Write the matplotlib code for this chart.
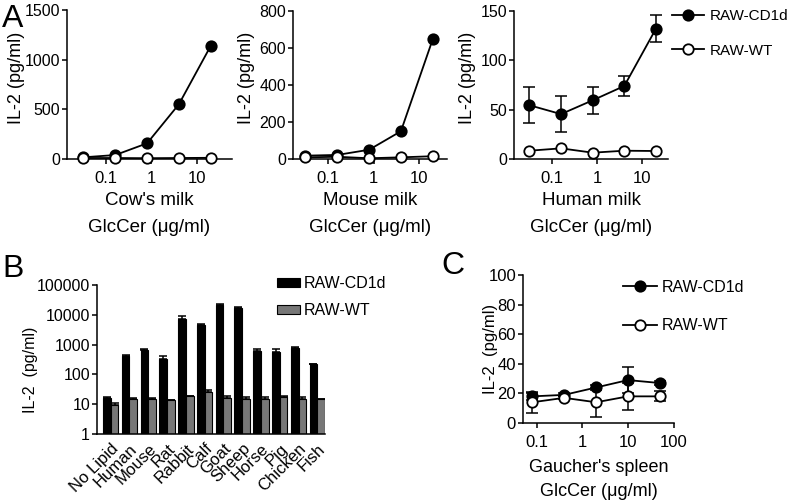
import matplotlib
matplotlib.use("Agg")
import matplotlib.pyplot as plt
import numpy as np
from matplotlib.ticker import FixedLocator, NullLocator, FixedFormatter

plt.rcParams['font.family'] = ['Liberation Sans', 'DejaVu Sans']
plt.rcParams['axes.linewidth'] = 1.1
plt.rcParams['xtick.major.width'] = 1.1
plt.rcParams['ytick.major.width'] = 1.1
plt.rcParams['xtick.major.size'] = 3.5
plt.rcParams['ytick.major.size'] = 3.5

W, H = 793, 504

# ---------------- data ----------------
conc_milk = [0.032, 0.16, 0.8, 4, 20]

cow_cd1d = [17, 40, 158, 551, 1138]
cow_wt = [10, 10, 8, 10, 12]

mouse_cd1d = [18, 22, 50, 150, 647]
mouse_wt = [9, 12, 4, 9, 15]

human_cd1d = [54.5, 45.5, 59.5, 74, 132]
human_cd1d_err = [18, 18, 13.5, 10, 13.5]
human_wt = [8.4, 10.8, 6.4, 8.4, 8.1]

species = ["No Lipid", "Human", "Mouse", "Rat", "Rabbit", "Calf", "Goat",
           "Sheep", "Horse", "Pig", "Chicken", "Fish"]
b_cd1d = [16, 420, 680, 320, 7500, 4700, 21000, 17000, 620, 580, 780, 220]
b_cd1d_err = [2, 30, 50, 90, 1800, 200, 1500, 1000, 110, 110, 40, 10]
b_wt = [9.5, 15, 15.5, 13.5, 18.5, 26, 16.5, 15, 15, 18, 14.5, 15]
b_wt_err = [1.2, 1, 1, 0.7, 1, 4, 3, 2.5, 3, 1, 2.5, 0.5]

conc_spleen = [0.08, 0.4, 2, 10, 50]
spl_cd1d = [18, 19, 24, 29, 27]
spl_cd1d_err = [2.5, 1, 1.5, 9, 1.5]
spl_wt = [14, 17, 14, 18, 18]
spl_wt_err = [7, 1, 9.7, 9, 3.3]

# ---------------- figure ----------------
fig = plt.figure(figsize=(W / 100, H / 100), dpi=100)


def add_ax(l, r, t, b):
    return fig.add_axes([l / W, 1 - b / H, (r - l) / W, (b - t) / H])


def style(ax):
    for s in ("top", "right"):
        ax.spines[s].set_visible(False)


LW = 1.3
MS = 7.5
MEW = 1.3


def line_panel(ax, x, yc, yw, ycerr=None, ywerr=None):
    if ycerr is not None:
        ax.errorbar(x, yc, yerr=ycerr, fmt="none", ecolor="black", elinewidth=1.1,
                    capsize=4.5, capthick=1.1, clip_on=False, zorder=2)
    if ywerr is not None:
        ax.errorbar(x, yw, yerr=ywerr, fmt="none", ecolor="black", elinewidth=1.1,
                    capsize=4.5, capthick=1.1, clip_on=False, zorder=2)
    ax.plot(x, yc, color="black", lw=LW, marker="o", ms=MS, mfc="black",
            mec="black", mew=MEW, clip_on=False, zorder=3, label="RAW-CD1d")
    ax.plot(x, yw, color="black", lw=LW, marker="o", ms=MS, mfc="white",
            mec="black", mew=MEW, clip_on=False, zorder=4, label="RAW-WT")
    ax.set_xscale("log")
    ax.xaxis.set_minor_locator(NullLocator())


# ---- Panel A ----
milk_names = ["Cow's milk", "Mouse milk", "Human milk"]
a_rects = [(67, 232, 10, 159), (293, 447, 11, 159), (514, 668, 11, 159)]
a_xlims = [(0.0139, 58.8), (0.017, 41.2), (0.0146, 37)]
a_ylims = [1500, 800, 150]
a_yticks = [[0, 500, 1000, 1500], [0, 200, 400, 600, 800], [0, 50, 100, 150]]
a_label_right = [25, 255, 476]

axA = []
for k in range(3):
    ax = add_ax(*a_rects[k])
    style(ax)
    if k == 0:
        line_panel(ax, conc_milk, cow_cd1d, cow_wt)
    elif k == 1:
        line_panel(ax, conc_milk, mouse_cd1d, mouse_wt)
    else:
        line_panel(ax, conc_milk, human_cd1d, human_wt, ycerr=human_cd1d_err)
    ax.set_xlim(*a_xlims[k])
    ax.set_ylim(0, a_ylims[k])
    ax.set_yticks(a_yticks[k])
    ax.xaxis.set_major_locator(FixedLocator([0.1, 1, 10]))
    ax.xaxis.set_major_formatter(FixedFormatter(["0.1", "1", "10"]))
    ax.tick_params(axis="x", labelsize=12, pad=5)
    ax.tick_params(axis="y", labelsize=11.5, pad=1.5)
    ax.set_xlabel(milk_names[k] + "\nGlcCer (μg/ml)", fontsize=13.5, linespacing=1.75)
    l, r, t, b = a_rects[k]
    ax.xaxis.set_label_coords(0.5, (b - 192) / (b - t))
    ax.set_ylabel("IL-2 (pg/ml)", fontsize=13)
    ax.yaxis.set_label_coords((a_label_right[k] - l) / (r - l), 0.545)
    axA.append(ax)

axA[2].legend(loc="upper left", bbox_to_anchor=(672 / W, 1 - 9 / H),
              bbox_transform=fig.transFigure, frameon=False, fontsize=11,
              borderpad=0, borderaxespad=0, handlelength=2.1, handletextpad=0.35,
              labelspacing=1.35)

# ---- Panel B ----
axB = add_ax(97, 325, 285, 434)
style(axB)
idx = np.arange(len(species))
w = 0.41
axB.bar(idx - w / 2, b_cd1d, width=w, color="black", edgecolor="black", lw=0.8,
        label="RAW-CD1d", zorder=2)
axB.bar(idx + w / 2, b_wt, width=w, color="#777777", edgecolor="black", lw=0.8,
        label="RAW-WT", zorder=2)
axB.errorbar(idx - w / 2, b_cd1d, yerr=[np.zeros(len(b_cd1d)), b_cd1d_err],
             fmt="none", ecolor="black", elinewidth=1.1, capsize=3, capthick=1.1, zorder=3)
axB.errorbar(idx + w / 2, b_wt, yerr=[np.zeros(len(b_wt)), b_wt_err],
             fmt="none", ecolor="black", elinewidth=1.1, capsize=3, capthick=1.1, zorder=3)
axB.set_yscale("log")
axB.set_ylim(1, 100000)
axB.set_xlim(-w - 0.32, len(species) - 1 + w)
axB.yaxis.set_major_locator(FixedLocator([1, 10, 100, 1000, 10000, 100000]))
axB.yaxis.set_major_formatter(FixedFormatter(["1", "10", "100", "1000", "10000", "100000"]))
axB.yaxis.set_minor_locator(NullLocator())
axB.set_xticks(idx)
axB.set_xticklabels(species, rotation=45, ha="right", rotation_mode="anchor")
axB.tick_params(axis="x", length=0, pad=5, labelsize=12)
axB.tick_params(axis="y", labelsize=11.5, pad=1.5)
axB.set_ylabel("IL-2  (pg/ml)", fontsize=11.5)
axB.yaxis.set_label_coords((30 + 8 - 97) / 228, 0.43)
axB.legend(loc="upper left", bbox_to_anchor=(277 / W, 1 - 276 / H),
           bbox_transform=fig.transFigure, frameon=False, fontsize=11.5,
           borderpad=0, borderaxespad=0, handlelength=1.45, handleheight=0.55,
           handletextpad=0.25, labelspacing=0.75)

# ---- Panel C ----
axC = add_ax(523, 674, 275, 423)
style(axC)
line_panel(axC, conc_spleen, spl_cd1d, spl_wt, ycerr=spl_cd1d_err, ywerr=spl_wt_err)
axC.set_xlim(0.05, 102)
axC.set_ylim(0, 100)
axC.set_yticks([0, 20, 40, 60, 80, 100])
axC.xaxis.set_major_locator(FixedLocator([0.1, 1, 10, 100]))
axC.xaxis.set_major_formatter(FixedFormatter(["0.1", "1", "10", "100"]))
axC.tick_params(axis="x", labelsize=12, pad=5)
axC.tick_params(axis="y", labelsize=12, pad=1.5)
axC.set_xlabel("Gaucher's spleen\nGlcCer (μg/ml)", fontsize=13, linespacing=1.55)
axC.xaxis.set_label_coords(0.5, (423 - 459) / 148)
axC.set_ylabel("IL-2  (pg/ml)", fontsize=12)
axC.yaxis.set_label_coords((490 + 8 - 523) / 151, 0.5)
axC.legend(loc="upper left", bbox_to_anchor=(623 / W, 1 - 280 / H),
           bbox_transform=fig.transFigure, frameon=False, fontsize=11.5,
           borderpad=0, borderaxespad=0, handlelength=2.1, handletextpad=0.35,
           labelspacing=1.45)

# panel letters
fig.text(2 / W, 1 - 19 / H, "A", fontsize=23, va="center", ha="left")
fig.text(2 / W, 1 - 269 / H, "B", fontsize=23, va="center", ha="left")
fig.text(441 / W, 1 - 266 / H, "C", fontsize=23, va="center", ha="left")

fig.savefig("out.png", dpi=100)
